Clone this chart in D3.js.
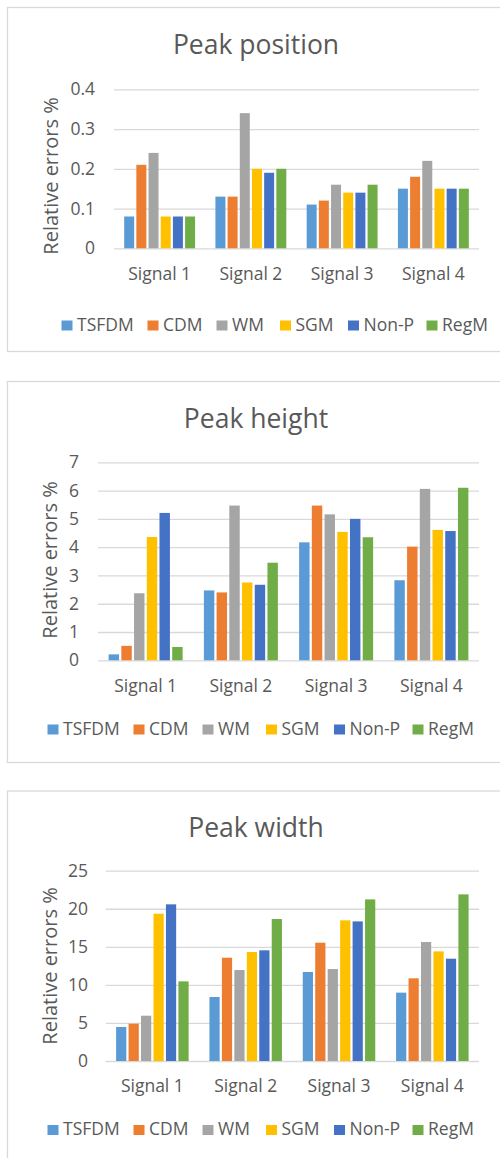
<!DOCTYPE html>
<html>
<head>
<meta charset="utf-8">
<script src="https://cdn.jsdelivr.net/npm/d3@7"></script>
<style>
  html, body { margin: 0; padding: 0; background: #fff; }
  svg { display: block; font-family: "Open Sans", sans-serif; }
</style>
</head>
<body>
<svg id="chart" width="500" height="1158"></svg>
<script>
// Categories and series shared by the three panels
const categories = ["Signal 1", "Signal 2", "Signal 3", "Signal 4"];
const methods = ["TSFDM", "CDM", "WM", "SGM", "Non-P", "RegM"];
const methodColors = ["#5B9BD5", "#ED7D31", "#A5A5A5", "#FFC000", "#4472C4", "#70AD47"];

// Relative errors (%) per signal, in method order
const positionErrors = [
  [0.08, 0.21, 0.24, 0.08, 0.08, 0.08],
  [0.13, 0.13, 0.34, 0.20, 0.19, 0.20],
  [0.11, 0.12, 0.16, 0.14, 0.14, 0.16],
  [0.15, 0.18, 0.22, 0.15, 0.15, 0.15]
];
const heightErrors = [
  [0.21, 0.51, 2.37, 4.36, 5.21, 0.47],
  [2.47, 2.40, 5.47, 2.75, 2.67, 3.45],
  [4.17, 5.47, 5.16, 4.54, 5.00, 4.35],
  [2.83, 4.02, 6.06, 4.61, 4.57, 6.10]
];
const widthErrors = [
  [4.47, 4.90, 5.95, 19.35, 20.58, 10.46],
  [8.41, 13.57, 11.95, 14.32, 14.54, 18.65],
  [11.69, 15.54, 12.08, 18.48, 18.34, 21.23],
  [8.98, 10.86, 15.63, 14.40, 13.44, 21.89]
];

// Tick values for each panel's value axis
const positionTicks = [0, 0.1, 0.2, 0.3, 0.4];
const heightTicks = [0, 1, 2, 3, 4, 5, 6, 7];
const widthTicks = [0, 5, 10, 15, 20, 25];

const titles = ["Peak position", "Peak height", "Peak width"];
const yAxisTitle = "Relative errors %";

const TEXT = "#595959";
const GRID = "#D9D9D9";
// horizontal offset of each legend swatch from the legend's start
const legendSlots = [0, 86, 155, 218.5, 286.5, 365];

const svg = d3.select("#chart");
svg.append("rect").attr("width", 500).attr("height", 1158).attr("fill", "#fff");

function drawPanel(cfg) {
  const g = svg.append("g");

  // chart frame (right edge runs past the page)
  g.append("rect")
    .attr("x", 7.5).attr("y", cfg.frameTop + 0.5)
    .attr("width", 520).attr("height", cfg.frameBottom - cfg.frameTop)
    .attr("fill", "#fff").attr("stroke", GRID).attr("stroke-width", 1.3);

  const y = d3.scaleLinear().domain([0, cfg.max]).range([cfg.yZero, cfg.yTop]);
  const x0 = d3.scaleBand().domain(categories)
    .range([cfg.left, cfg.right]).paddingInner(0.223).paddingOuter(0.1115);
  const x1 = d3.scaleBand().domain(methods)
    .range([0, x0.bandwidth()]).paddingInner(0.18).paddingOuter(0);
  const color = d3.scaleOrdinal().domain(methods).range(methodColors);

  // horizontal gridlines + tick labels via a left axis
  const yAxis = d3.axisLeft(y).tickValues(cfg.ticks)
    .tickSize(-(cfg.right - cfg.left)).tickPadding(cfg.left - cfg.tickRight)
    .tickFormat(d3.format(cfg.fmt));
  const ya = g.append("g").attr("transform", `translate(${cfg.left},0)`).call(yAxis);
  ya.select(".domain").remove();
  ya.selectAll(".tick line").attr("stroke", GRID).attr("stroke-width", 1.3);
  ya.selectAll(".tick text").attr("fill", TEXT).style("font-size", "17.5px")
    .style("font-family", "'Open Sans', sans-serif");

  // bars
  const groups = g.selectAll(".grp").data(cfg.values).join("g")
    .attr("transform", (d, i) => `translate(${x0(categories[i])},0)`);
  groups.selectAll("rect").data(d => d.map((v, j) => ({ m: methods[j], v })))
    .join("rect")
    .attr("x", d => x1(d.m))
    .attr("width", x1.bandwidth())
    .attr("y", d => y(d.v))
    .attr("height", d => y(0) - y(d.v))
    .attr("fill", d => color(d.m));

  // category axis labels
  const xAxis = d3.axisBottom(x0).tickSize(0).tickPadding(0);
  const xa = g.append("g").attr("transform", `translate(0,${cfg.catBase})`).call(xAxis);
  xa.select(".domain").remove();
  xa.selectAll(".tick text").attr("fill", TEXT).attr("dy", 0)
    .style("font-size", "17.5px").style("font-family", "'Open Sans', sans-serif");

  // title
  g.append("text").attr("x", 256).attr("y", cfg.titleBase)
    .attr("text-anchor", "middle").attr("fill", TEXT)
    .style("font-size", "26.5px").text(cfg.title);

  // value axis title
  g.append("text")
    .attr("transform", `translate(${cfg.yTitleX},${cfg.yTitleY}) rotate(-90)`)
    .attr("text-anchor", "middle").attr("fill", TEXT)
    .style("font-size", "20px").text(yAxisTitle);

  // legend
  const leg = g.append("g").attr("transform", `translate(${cfg.legendX},${cfg.legendY})`);
  methods.forEach((m, i) => {
    const item = leg.append("g").attr("transform", `translate(${legendSlots[i]},0)`);
    item.append("rect").attr("x", 0).attr("y", -5).attr("width", 11).attr("height", 10)
      .attr("fill", color(m));
    item.append("text").attr("x", 15.5).attr("y", 5).attr("fill", TEXT)
      .style("font-size", "17.5px").text(m);
  });
}

drawPanel({
  title: titles[0], values: positionErrors, ticks: positionTicks, max: 0.4, fmt: "",
  frameTop: 7, frameBottom: 351,
  left: 114, right: 479, yTop: 89.3, yZero: 248.3, tickRight: 95,
  catBase: 280, titleBase: 53.5, yTitleX: 58, yTitleY: 176,
  legendX: 61.5, legendY: 325.5
});

drawPanel({
  title: titles[1], values: heightErrors, ticks: heightTicks, max: 7, fmt: "d",
  frameTop: 381, frameBottom: 762,
  left: 98, right: 479, yTop: 462.3, yZero: 660.3, tickRight: 79,
  catBase: 691.5, titleBase: 427.5, yTitleX: 57, yTitleY: 560,
  legendX: 47.5, legendY: 729.5
});

drawPanel({
  title: titles[2], values: widthErrors, ticks: widthTicks, max: 25, fmt: "d",
  frameTop: 790.5, frameBottom: 1200,
  left: 105.7, right: 479, yTop: 870.7, yZero: 1061, tickRight: 88,
  catBase: 1091.5, titleBase: 837, yTitleX: 57, yTitleY: 966,
  legendX: 47.5, legendY: 1130
});
</script>
</body>
</html>
